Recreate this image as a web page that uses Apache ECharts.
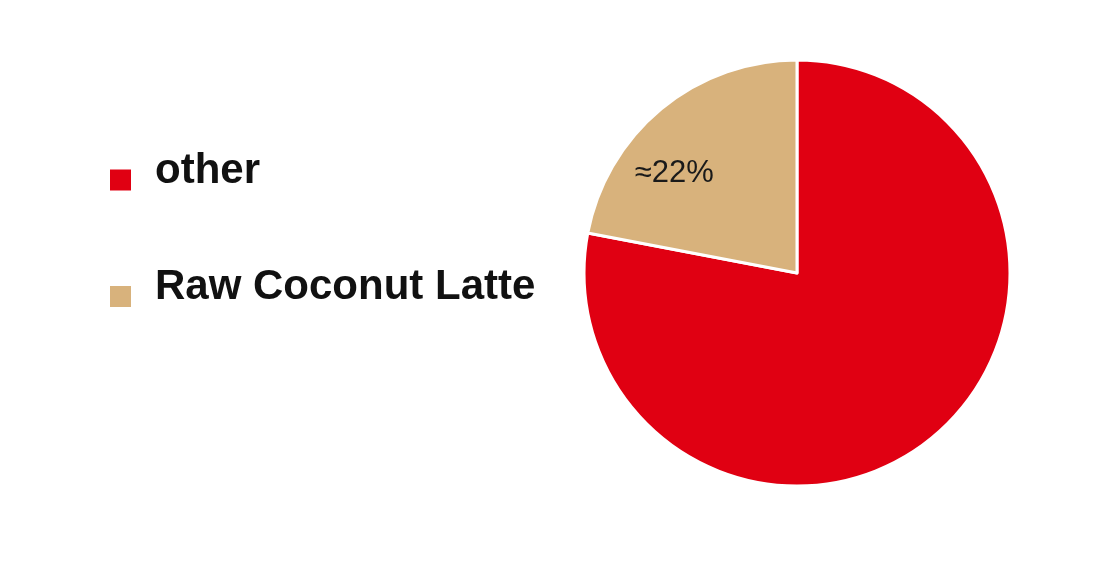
<!DOCTYPE html>
<html>
<head>
<meta charset="utf-8">
<script src="https://cdn.jsdelivr.net/npm/echarts@6/dist/echarts.min.js"></script>
<style>
html,body{margin:0;padding:0;background:#fff;}
#c{width:1107px;height:581px;}
</style>
</head>
<body>
<div id="c"></div>
<script>
var categories = ['other', 'Raw Coconut Latte'];
var values = [78, 22];
var labels = ['', '≈22%'];
var colors = ['#E00012', '#D8B27C'];

var chart = echarts.init(document.getElementById('c'), null, {renderer: 'canvas'});
var data = categories.map(function (n, i) {
  return {
    name: n,
    value: values[i],
    itemStyle: {color: colors[i]},
    label: {show: !!labels[i], formatter: labels[i]}
  };
});
chart.setOption({
  backgroundColor: '#ffffff',
  animation: false,
  legend: {
    orient: 'vertical',
    left: 103,
    top: 145,
    itemWidth: 23,
    itemHeight: 23,
    itemGap: 74,
    icon: 'rect',
    data: categories,
    formatter: '{t|{name}}',
    textStyle: {
      rich: {
        t: {
          fontFamily: 'Liberation Sans, Arial, sans-serif',
          fontWeight: 'bold',
          fontSize: 42,
          color: '#111',
          padding: [0, 0, 18, 18]
        }
      }
    }
  },
  series: [{
    type: 'pie',
    center: [797, 273],
    radius: [0, 213],
    startAngle: 90,
    clockwise: true,
    itemStyle: {borderColor: '#ffffff', borderWidth: 3},
    label: {
      position: 'inside',
      fontFamily: 'Liberation Sans, Arial, sans-serif',
      fontSize: 31,
      color: '#1a1a1a',
      offset: [-53, -15]
    },
    labelLine: {show: false},
    emphasis: {disabled: true},
    data: data
  }]
});
</script>
</body>
</html>
